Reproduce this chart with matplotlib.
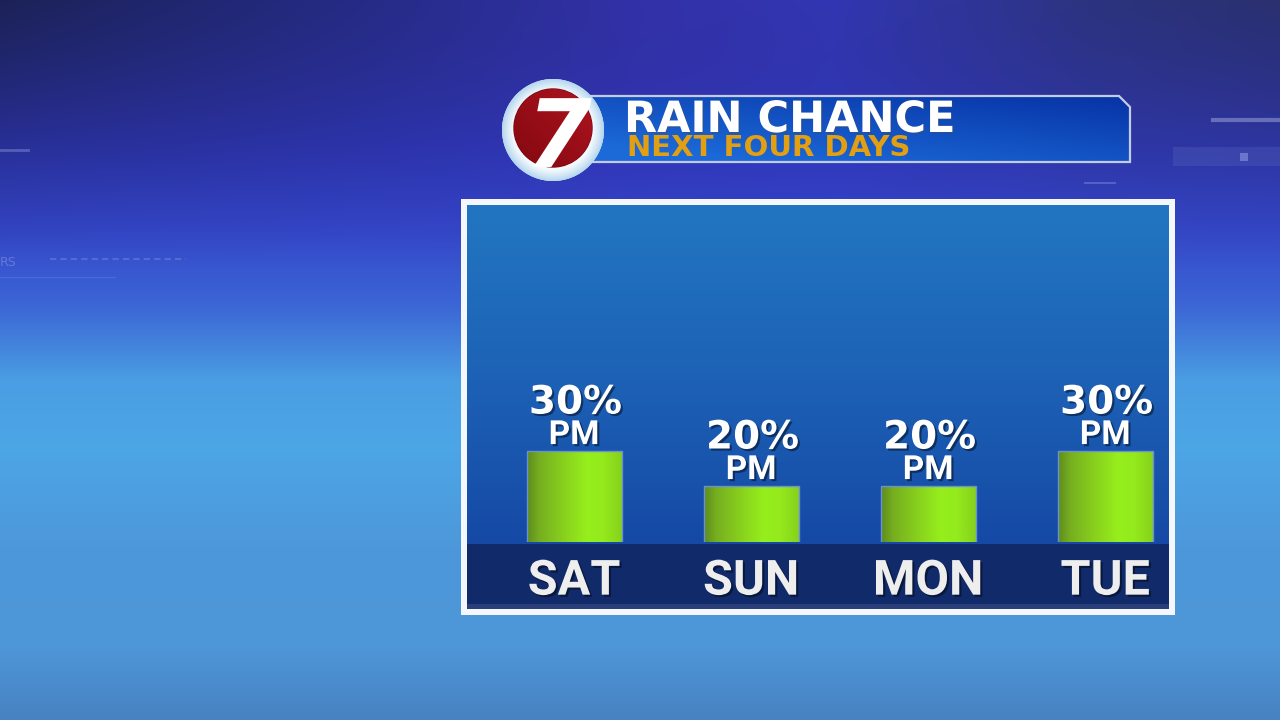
import numpy as np
import matplotlib
matplotlib.use("Agg")
import matplotlib.pyplot as plt
import matplotlib.patheffects as pe
from matplotlib.patches import Rectangle, Polygon, Circle
from matplotlib.colors import to_rgb

# ---------------- data ----------------
days = ["SAT", "SUN", "MON", "TUE"]
rain_chance = [30, 20, 20, 30]
period = ["PM", "PM", "PM", "PM"]
title = "RAIN CHANCE"
subtitle = "NEXT FOUR DAYS"
logo_text = "7"

W, H = 1280, 720
fig = plt.figure(figsize=(12.8, 7.2), dpi=100)


def grad1d(stops, n):
    s = np.linspace(0, 1, n)
    pos = [p[0] for p in stops]
    cols = np.array([to_rgb(p[1]) for p in stops])
    return np.stack([np.interp(s, pos, cols[:, k]) for k in range(3)], axis=-1)


# ---------------- background ----------------
bg = fig.add_axes([0, 0, 1, 1])
bg.set_axis_off()
vcol = grad1d([(0.0, "#2c2f9c"), (0.2, "#3038c0"), (0.32, "#3548cc"),
               (0.42, "#3b64d4"), (0.53, "#4a9ee3"), (0.62, "#4ca6e6"),
               (0.76, "#4c98da"), (0.9, "#4e96d8"), (1.0, "#4782c2")], H)
img = np.repeat(vcol[:, None, :], W, axis=1)
top_row = grad1d([(0.0, "#1c2258"), (0.3, "#262c88"), (0.5, "#3331a8"),
                  (0.65, "#3236b2"), (0.85, "#2c3480"), (1.0, "#2a3070")], W)
wy = np.clip(1 - np.arange(H) / 270.0, 0, 1) ** 1.2
img = img * (1 - wy[:, None, None]) + top_row[None, :, :] * wy[:, None, None]
bg.imshow(np.clip(img, 0, 1), extent=(0, W, H, 0), origin="upper", aspect="auto", zorder=0)

# faint decorations
bg.plot([0, 28], [150, 150], color="#9aa8e8", alpha=0.4, lw=2, zorder=1)
bg.plot([50, 186], [259, 259], color="#9aa8e8", alpha=0.3, lw=1.5, ls=(0, (3, 2)), zorder=1)
bg.plot([0, 115], [277, 277], color="#9aa8e8", alpha=0.2, lw=1, zorder=1)
bg.text(0, 263, "RS", color="#9aa8e8", alpha=0.45, fontsize=9, va="center", zorder=1)
bg.plot([1213, 1280], [120, 120], color="#b0b8e8", alpha=0.45, lw=3, zorder=1)
bg.add_patch(Rectangle((1173, 147), 107, 19, facecolor="#6070c0", alpha=0.25, edgecolor="none", zorder=1))
bg.add_patch(Rectangle((1240, 153), 8, 8, facecolor="#9aa8e8", alpha=0.5, edgecolor="none", zorder=1))
bg.plot([1085, 1115], [183, 183], color="#9aa8e8", alpha=0.35, lw=1.5, zorder=1)

# ---------------- panel ----------------
PX0, PX1, PY0, PY1 = 467, 1169, 205, 609
BAND_TOP = 544
bg.add_patch(Rectangle((461, 199), 714, 416, facecolor="#f4f7fc", edgecolor="none", zorder=2))
pcol = grad1d([(0, "#2276c1"), (0.5, "#1d62b6"), (1, "#1549a5")], 200)
pimg = np.repeat(pcol[:, None, :], 50, axis=1)
bg.imshow(pimg, extent=(PX0, PX1, BAND_TOP, PY0), origin="upper", aspect="auto", zorder=3)
bg.add_patch(Rectangle((PX0, BAND_TOP), PX1 - PX0, PY1 - BAND_TOP,
                       facecolor="#102a6a", edgecolor="none", zorder=4))
bg.add_patch(Rectangle((PX0, PY1 - 5), PX1 - PX0, 5,
                       facecolor="#2a3f7a", edgecolor="none", zorder=4))

# ---------------- title box ----------------
box_pts = [(585, 96), (1119, 96), (1130, 107), (1130, 162), (585, 162)]
gx = np.linspace(0, 1, 120)[None, :]
gy = np.linspace(0, 1, 40)[:, None]
t = np.clip(0.55 * (1 - gx) + 0.6 * gy, 0, 1)
c0 = np.array(to_rgb("#0733a6"))
c1 = np.array(to_rgb("#1c6ad8"))
timg = c0 + (c1 - c0) * t[..., None]
clip_poly = Polygon(box_pts, closed=True, facecolor="none", edgecolor="none")
bg.add_patch(clip_poly)
im_t = bg.imshow(timg, extent=(585, 1130, 162, 96), origin="upper", aspect="auto", zorder=6)
im_t.set_clip_path(clip_poly)
bg.add_patch(Polygon(box_pts, closed=True, facecolor="none", edgecolor="#c3cbe6", lw=1.6, zorder=7))

bg.text(624, 132, title, color="white", fontsize=31, fontweight="bold",
        family="DejaVu Sans", va="baseline", ha="left", zorder=8,
        path_effects=[pe.withSimplePatchShadow(offset=(1, -1), alpha=0.35)])
bg.text(627, 156, subtitle, color="#e39f12", fontsize=21, fontweight="bold",
        family="DejaVu Sans", va="baseline", ha="left", zorder=8)

# ---------------- logo ----------------
LX, LY = 553, 130
outer = Circle((LX, LY), 51, facecolor="#eef7fc", edgecolor="none", zorder=9)
bg.add_patch(outer)
mx, my = np.meshgrid(np.linspace(-1, 1, 151), np.linspace(-1, 1, 151))
r = np.hypot(mx, my)
tr = np.clip((r - 0.72) / 0.28, 0, 1) ** 1.3
rimg = np.array(to_rgb("#ffffff")) + (np.array(to_rgb("#b4d6ef")) - np.array(to_rgb("#ffffff"))) * tr[..., None]
im_o = bg.imshow(rimg, extent=(LX - 51, LX + 51, LY + 51, LY - 51), origin="upper", aspect="auto", zorder=9.5)
im_o.set_clip_path(outer)
red = Circle((LX, LY - 2), 39, facecolor="#9c0c16", edgecolor="#7a0810", lw=1, zorder=10)
bg.add_patch(red)
rg = np.clip(np.linspace(0, 1, 80)[None, :] * 0.5 + (1 - np.linspace(0, 1, 80)[:, None]) * 0.5, 0, 1)
rgimg = np.array(to_rgb("#840810")) + (np.array(to_rgb("#ad1420")) - np.array(to_rgb("#840810"))) * rg[..., None]
im_r = bg.imshow(rgimg, extent=(LX - 39, LX + 39, LY + 37, LY - 41), origin="upper", aspect="auto", zorder=10.5)
im_r.set_clip_path(red)
seven = bg.text(LX + 6, LY + 37, logo_text, color="white", fontsize=68, fontweight="bold",
                style="italic", family="DejaVu Sans", ha="center", va="baseline", zorder=11,
                path_effects=[pe.Normal()])
seven.set_clip_path(red)

bg.set_xlim(0, W)
bg.set_ylim(H, 0)

# ---------------- bar chart ----------------
BASE = 542
YLO, YHI = 4, 100.3
ax = fig.add_axes([PX0 / W, 1 - BASE / H, (PX1 - PX0) / W, (BASE - PY0) / H])
ax.patch.set_alpha(0)
x = np.arange(len(days))
bw = 0.537
bars = ax.bar(x, rain_chance, width=bw, color="#8ad41e", edgecolor="#6a92d0",
              linewidth=1.0, zorder=3)

gcols = [(0.0, "#5e8c1e"), (0.12, "#76ae20"), (0.35, "#86cc1e"),
         (0.62, "#96ee1c"), (0.8, "#94ea1c"), (1.0, "#86d01c")]
grad = grad1d(gcols, 100)[None, :, :]
for b in bars:
    x0 = b.get_x()
    im = ax.imshow(grad, extent=(x0, x0 + b.get_width(), YLO, b.get_height()),
                   origin="upper", aspect="auto", zorder=2.5)
    b.set_facecolor("none")

shadow = [pe.withSimplePatchShadow(offset=(1.5, -1.5), shadow_rgbFace="black", alpha=0.45)]
for xi, v, p in zip(x, rain_chance, period):
    ax.annotate(p, xy=(xi, v), xytext=(0, 5), textcoords="offset points",
                ha="center", va="baseline", color="white", fontsize=24,
                fontweight="bold", family="Roboto", path_effects=shadow, zorder=5)
    ax.annotate(f"{v}%", xy=(xi, v), xytext=(1, 27), textcoords="offset points",
                ha="center", va="baseline", color="white", fontsize=28,
                fontweight="bold", family="DejaVu Sans", path_effects=shadow, zorder=5)

ax.set_xlim(-0.605, 3.36)
ax.set_ylim(YLO, YHI)
ax.set_xticks(x)
ax.set_xticklabels(days, fontsize=35, fontweight="bold", family="Roboto", color="#eeeeee")
for lab in ax.get_xticklabels():
    lab.set_path_effects(shadow)
ax.tick_params(axis="x", length=0, pad=12)
ax.set_yticks([])
for s in ax.spines.values():
    s.set_visible(False)

fig.savefig("out.png", dpi=100)
